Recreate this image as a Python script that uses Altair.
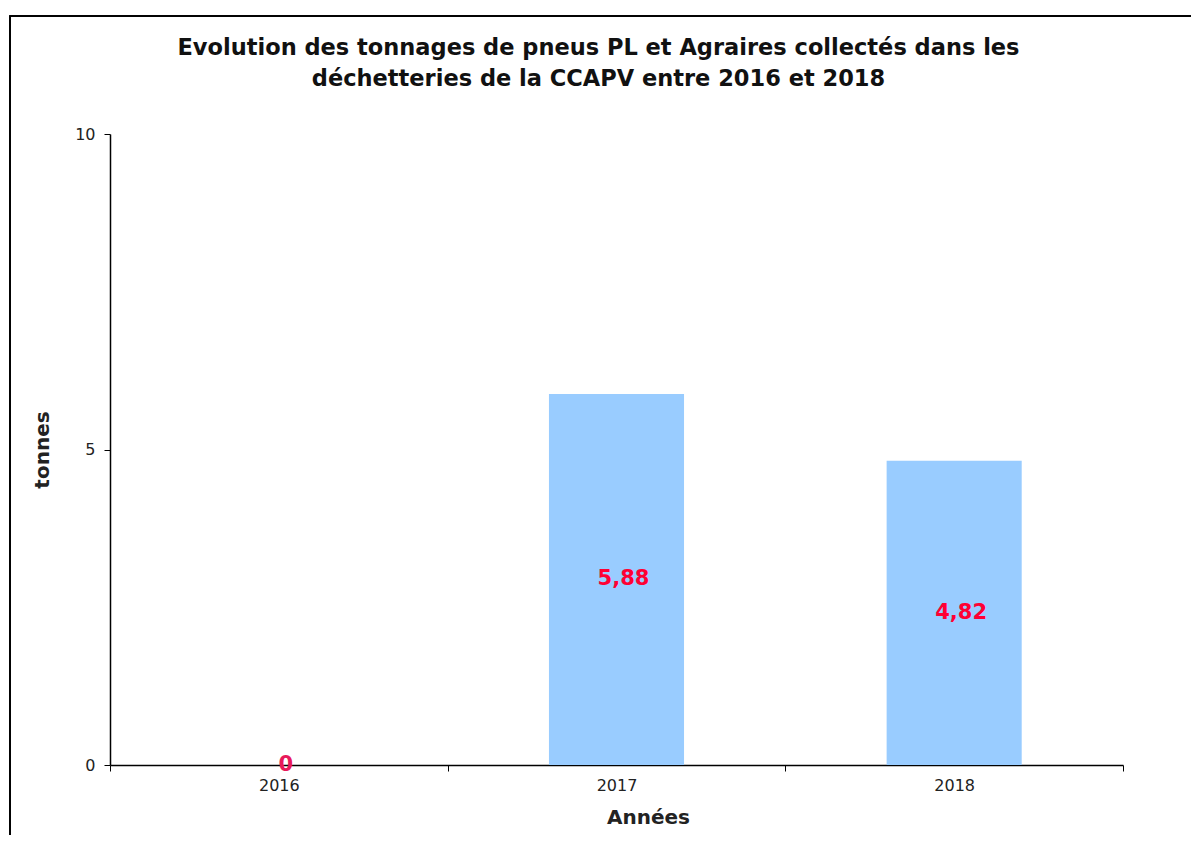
import altair as alt
import pandas as pd

years = ["2016", "2017", "2018"]
tonnes = [0, 5.88, 4.82]
labels = ["0", "5,88", "4,82"]
label_colors = ["#e8195a", "#ff0033", "#ff0033"]

df = pd.DataFrame({"annee": years, "tonnes": tonnes, "label": labels, "lcol": label_colors})

FONT = "DejaVu Sans"

x_enc = alt.X(
    "annee:N",
    title="Années",
    scale=alt.Scale(paddingInner=0, paddingOuter=0),
    axis=alt.Axis(
        labelAngle=0, labelFont=FONT, labelFontSize=16, labelColor="#222",
        titleFont=FONT, titleFontSize=20, titleFontWeight="bold", titleColor="#222",
        titlePadding=14, titleX=538, tickBand="extent", tickSize=6, labelPadding=6,
        domainColor="#000", tickColor="#000", domainWidth=1.5,
    ),
)

bars = alt.Chart(df).mark_bar(color="#99CCFF", width={"band": 0.4}).encode(
    x=x_enc,
    y=alt.Y(
        "tonnes:Q",
        title="tonnes",
        scale=alt.Scale(domain=[0, 10], nice=False),
        axis=alt.Axis(
            values=[0, 5, 10], format="d", grid=False, labelFont=FONT, labelFontSize=16,
            labelColor="#222", titleFont=FONT, titleFontSize=20, titleFontWeight="bold",
            titleColor="#222", titlePadding=22, tickSize=6, labelPadding=9,
            domainColor="#000", tickColor="#000", domainWidth=1.5,
        ),
    ),
)

text = alt.Chart(df).transform_calculate(mid="datum.tonnes / 2").mark_text(
    font=FONT, fontSize=21, fontWeight="bold", baseline="middle", dx=7
).encode(
    x=alt.X("annee:N"),
    y=alt.Y("mid:Q"),
    text="label:N",
    color=alt.Color("lcol:N", scale=None),
)

frame = alt.Chart(df).mark_rect(fill=None, stroke="#000", strokeWidth=1.5, clip=False).encode(
    x=alt.value(-100), x2=alt.value(1300), y=alt.value(-118), y2=alt.value(1000)
)

chart = alt.layer(frame, bars, text).properties(
    width=1013,
    height=631,
    background="white",
    title=alt.TitleParams(
        ["Evolution des tonnages de pneus PL et Agraires collectés dans les",
         "déchetteries de la CCAPV entre 2016 et 2018"],
        font=FONT, fontSize=22.5, fontWeight="bold", color="#111",
        anchor="middle", dx=-18, offset=-75, lineHeight=31, frame="group",
    ),
    autosize=alt.AutoSizeParams(type="none"),
    padding={"left": 102, "top": 126, "right": 68, "bottom": 70},
).configure_view(stroke=None)

chart.save("out.html", embed_options={"renderer": "svg", "actions": False})
